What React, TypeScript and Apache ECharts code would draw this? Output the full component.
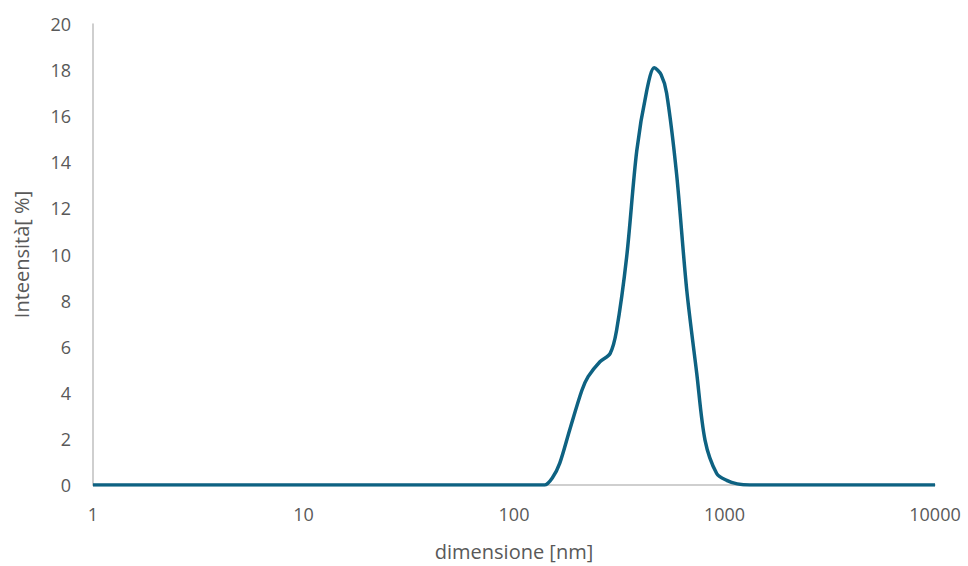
import React, { useEffect, useRef } from "react";
import * as echarts from "echarts";

const sizes = [1, 2, 5, 10, 20, 50, 100, 120, 140, 152, 165, 184, 210, 225, 256, 286, 307, 343, 383, 427, 464, 500, 531, 592, 661, 738, 808, 918, 1024, 1150, 1320, 1600, 2000, 5000, 10000];
const intensity = [0, 0, 0, 0, 0, 0, 0, 0, 0, 0.3, 0.95, 2.4, 4.1, 4.7, 5.35, 5.7, 6.7, 9.9, 14.5, 17.1, 18.1, 17.8, 17.0, 13.5, 8.5, 4.85, 1.95, 0.5, 0.2, 0.05, 0, 0, 0, 0, 0];
const yTicks = { min: 0, max: 20, interval: 2 };
const xTitle = "dimensione [nm]";
const yTitle = "Inteensità[ %]";

export default function App() {
  const ref = useRef<HTMLDivElement>(null);
  useEffect(() => {
    if (!ref.current) return;
    const chart = echarts.init(ref.current, null, { renderer: "svg" });
    const font = "'Open Sans', 'Noto Sans', sans-serif";
    chart.setOption({
      animation: false,
      backgroundColor: "#ffffff",
      grid: { left: 93, right: 33, top: 24, bottom: 81, outerBoundsMode: "none", containLabel: false },
      xAxis: {
        type: "log",
        logBase: 10,
        min: 1,
        max: 10000,
        name: xTitle,
        nameLocation: "middle",
        nameGap: 56,
        nameTextStyle: { color: "#595959", fontSize: 20, fontFamily: font },
        axisLine: { show: true, lineStyle: { color: "#bfbfbf", width: 1.5 } },
        axisTick: { show: false },
        splitLine: { show: false },
        minorTick: { show: false },
        axisLabel: {
          color: "#595959",
          fontSize: 18,
          fontFamily: font,
          margin: 20,
          formatter: (v: number) => String(Math.round(v)),
        },
      },
      yAxis: {
        type: "value",
        min: yTicks.min,
        max: yTicks.max,
        interval: yTicks.interval,
        name: yTitle,
        nameLocation: "middle",
        nameGap: 62,
        nameTextStyle: { color: "#595959", fontSize: 20, fontFamily: font },
        axisLine: { show: true, lineStyle: { color: "#bfbfbf", width: 1.5 } },
        axisTick: { show: false },
        splitLine: { show: false },
        axisLabel: { color: "#595959", fontSize: 18, fontFamily: font, margin: 22 },
      },
      series: [
        {
          type: "line",
          data: sizes.map((s, i) => [s, intensity[i]]),
          smooth: 0.3,
          showSymbol: false,
          lineStyle: { color: "#0e6282", width: 3.5 },
        },
      ],
    });
    return () => chart.dispose();
  }, []);
  return (
    <div
      ref={ref}
      style={{ position: "fixed", left: 0, top: 0, width: 968, height: 566 }}
    />
  );
}
